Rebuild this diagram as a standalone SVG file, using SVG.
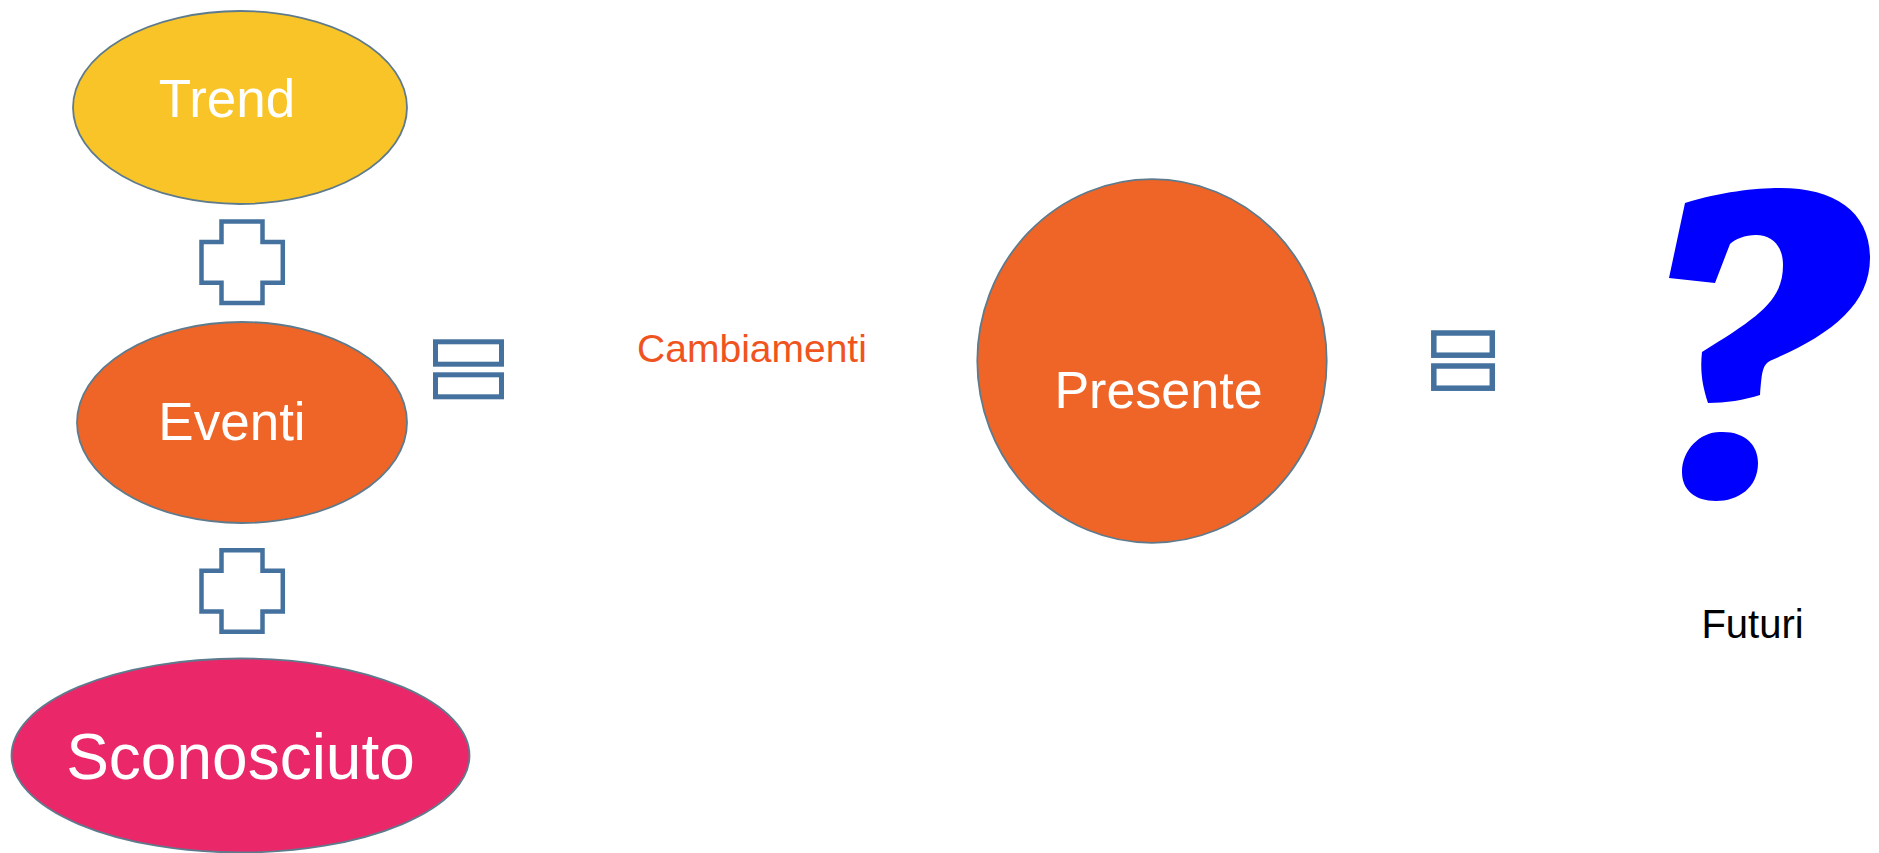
<svg xmlns="http://www.w3.org/2000/svg" width="1879" height="853" viewBox="0 0 1879 853">
<style>
.node{stroke:#5E7B8E;stroke-width:1.8}
.lbl{font-family:"Liberation Sans",Arial,sans-serif;fill:#FFFFFF;text-anchor:middle}
.op{fill:#FFFFFF;stroke:#44719E}
.txt{font-family:"Liberation Sans",Arial,sans-serif;text-anchor:middle}
</style>
<rect width="1879" height="853" fill="#FFFFFF"/>
<g id="trend">
<ellipse class="node" cx="240" cy="107.5" rx="167" ry="96.5" fill="#F8C427"/>
<text class="lbl" x="227" y="117" font-size="53">Trend</text>
</g>
<g id="eventi">
<ellipse class="node" cx="242" cy="422.5" rx="165" ry="100.5" fill="#EF6527"/>
<text class="lbl" x="232" y="440" font-size="53">Eventi</text>
</g>
<g id="sconosciuto">
<ellipse class="node" cx="240.5" cy="755.5" rx="229" ry="97" fill="#EA2869"/>
<text class="lbl" x="240.5" y="779" font-size="64">Sconosciuto</text>
</g>
<g id="presente">
<ellipse class="node" cx="1152" cy="361" rx="174.7" ry="181.8" fill="#EF6527"/>
<text class="lbl" x="1158.5" y="408" font-size="52">Presente</text>
</g>
<g id="cambiamenti">
<text class="txt" x="752" y="362" font-size="39" fill="#F0541E">Cambiamenti</text>
</g>
<g id="futuri">
<path fill="#0000FF" d="M1685,203 C1720,192 1755,188 1780,188 C1835,188 1870,212 1870,258 C1870,305 1830,335 1772,360 C1762,364 1762,372 1760,395 C1745,400 1725,403 1708,403 C1702,385 1700,370 1702,352 C1760,316 1783,300 1783,265 C1783,247 1773,235 1756,235 C1745,235 1735,239 1730,244 L1715,283 L1669,278 Z"/>
<path fill="#0000FF" d="M1720,432 C1745,431 1758,445 1758,463 C1758,488 1738,501 1716,501 C1695,501 1682,490 1682,472 C1682,450 1700,432 1720,432 Z"/>
<text class="txt" x="1752.5" y="638" font-size="40" fill="#000000">Futuri</text>
</g>
<g id="connectors">
<path class="op" stroke-width="4.5" d="M221.5,221.5 H262.5 V242 H282.8 V282.8 H262.5 V303 H221.5 V282.8 H201.5 V242 H221.5 Z"/>
<path class="op" stroke-width="4.5" d="M221.5,550.2 H262.5 V570.7 H282.8 V611.5 H262.5 V631.7 H221.5 V611.5 H201.5 V570.7 H221.5 Z"/>
<rect class="op" stroke-width="5" x="435.5" y="341.8" width="66" height="22.4"/>
<rect class="op" stroke-width="5" x="435.5" y="374.8" width="66" height="22"/>
<rect class="op" stroke-width="5.5" x="1433.8" y="333" width="58.5" height="22.2"/>
<rect class="op" stroke-width="5.5" x="1433.8" y="366" width="58.5" height="22.2"/>
</g>
</svg>
